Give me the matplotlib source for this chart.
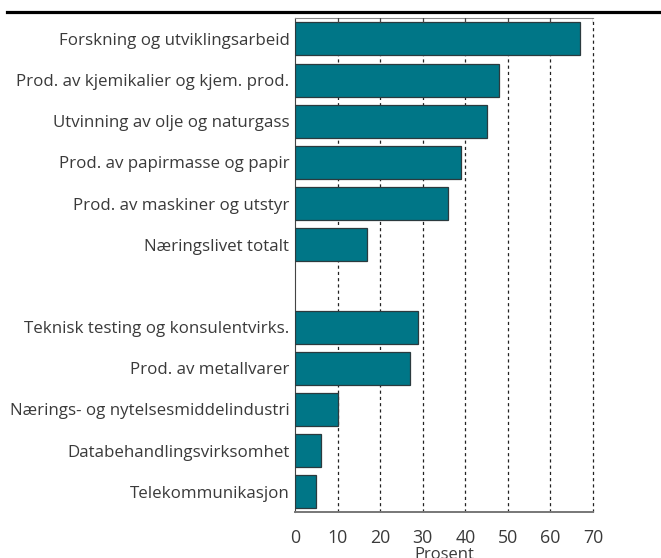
import matplotlib
matplotlib.use("Agg")
import matplotlib.pyplot as plt
from matplotlib.lines import Line2D

plt.rcParams["font.family"] = ["Open Sans", "DejaVu Sans"]

# Næringer, øverst til nederst ("" = tom plass mellom gruppene)
naeringer = [
    "Forskning og utviklingsarbeid",
    "Prod. av kjemikalier og kjem. prod.",
    "Utvinning av olje og naturgass",
    "Prod. av papirmasse og papir",
    "Prod. av maskiner og utstyr",
    "Næringslivet totalt",
    "",
    "Teknisk testing og konsulentvirks.",
    "Prod. av metallvarer",
    "Nærings- og nytelsesmiddelindustri",
    "Databehandlingsvirksomhet",
    "Telekommunikasjon",
]
prosent = [67, 48, 45, 39, 36, 17, None, 29, 27, 10, 6, 5]
xticks = [0, 10, 20, 30, 40, 50, 60, 70]

fig = plt.figure(figsize=(6.61, 5.58), dpi=100)
ax = fig.add_axes([0.4463, 0.0819, 0.4508, 0.8853])

pos = list(range(len(naeringer)))
vals = [v if v is not None else 0 for v in prosent]
bars = ax.barh(pos, vals, height=0.8, color="#007687", edgecolor="#2b3a3e", linewidth=0.9, zorder=3)
for b, v in zip(bars, prosent):
    if v is None:
        b.set_visible(False)

ax.set_ylim(len(naeringer) - 0.5, -0.5)
ax.set_xlim(0, 70)
ax.set_yticks(pos)
ax.set_yticklabels(naeringer, fontsize=12.2, color="#3a3a3a")
ax.tick_params(axis="y", length=0, pad=4)
ax.set_xticks(xticks)
ax.set_xticklabels([str(t) for t in xticks], fontsize=12.8, color="#3a3a3a")
ax.tick_params(axis="x", length=0, pad=12)
ax.set_xlabel("Prosent", fontsize=12, color="#3a3a3a", labelpad=0)

for t in xticks[1:]:
    ax.axvline(t, color="#222222", ls=(0, (2.5, 2.5)), lw=0.9, zorder=1, clip_on=False)
    ax.add_line(Line2D([t, t], [-0.5, -0.4], color="#444444", lw=0.9, zorder=4))

ax.spines["right"].set_visible(False)
ax.spines["top"].set_color("#888888")
ax.spines["bottom"].set_color("#777777")
ax.spines["bottom"].set_linewidth(1.4)
ax.spines["left"].set_color("#444444")

fig.add_artist(Line2D([0.011, 1.0], [0.978, 0.978], color="black", lw=2.3, transform=fig.transFigure))

fig.savefig("out.png", dpi=100)
plt.close(fig)
